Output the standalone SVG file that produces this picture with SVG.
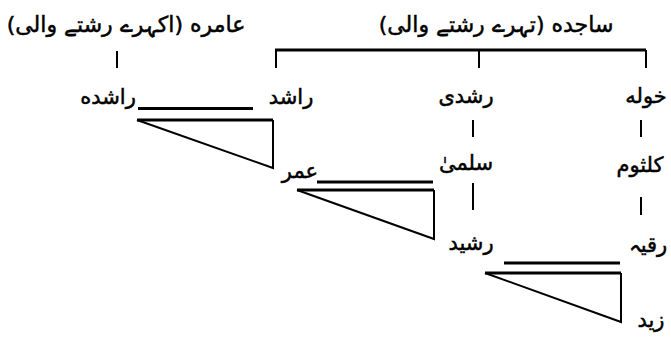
<svg xmlns="http://www.w3.org/2000/svg" width="671" height="338" viewBox="0 0 671 338">
<style>
text{font-family:"DejaVu Sans","Noto Sans",sans-serif;font-size:21px;fill:#000;stroke:#000;stroke-width:0.5;direction:rtl;unicode-bidi:embed;text-anchor:middle}
.hd{font-size:22px}
.ln{stroke:#000;fill:none;stroke-linecap:butt}
.thick{stroke-width:3}
.thin{stroke-width:2}
</style>
<rect width="671" height="338" fill="#fff"/>
<g id="connectors">
<path class="ln thick" d="M275,50 H646"/>
<path class="ln thin" d="M276,50 V68 M479,50 V68 M646,50 V68 M117,51 V68"/>
<path class="ln thin" d="M473,120 V137 M641,120 V137 M473,183 V210 M641,197 V215"/>
<path class="ln thick" d="M138,108.5 H253 M317,182 H433 M504,263 H620"/>
<path class="ln thick" d="M137,120 H273"/>
<path class="ln thin" d="M137,120 L273,168 V120"/>
<path class="ln thick" d="M297,190 H434"/>
<path class="ln thin" d="M297,190 L434,239 V190"/>
<path class="ln thick" d="M485,273 H621"/>
<path class="ln thin" d="M485,273 L621,322 V273"/>
</g>
<g id="sajida"><text class="hd" x="496" y="32">ساجده (تہرے رشتے والی)</text></g>
<g id="aamira"><text class="hd" x="126" y="32">عامره (اکہرے رشتے والی)</text></g>
<g id="rashida"><text x="108" y="104">راشده</text></g>
<g id="rashid"><text x="291" y="104">راشد</text></g>
<g id="rushdi"><text x="466" y="103">رشدی</text></g>
<g id="khawla"><text x="646" y="103">خوله</text></g>
<g id="salma"><text x="466" y="170">سلمیٰ</text></g>
<g id="kulsoom"><text x="640" y="172">کلثوم</text></g>
<g id="umar"><text x="300" y="178">عمر</text></g>
<g id="rasheed"><text x="471" y="250">رشید</text></g>
<g id="ruqayya"><text x="648" y="252">رقیہ</text></g>
<g id="zaid"><text x="651" y="327">زید</text></g>
</svg>
